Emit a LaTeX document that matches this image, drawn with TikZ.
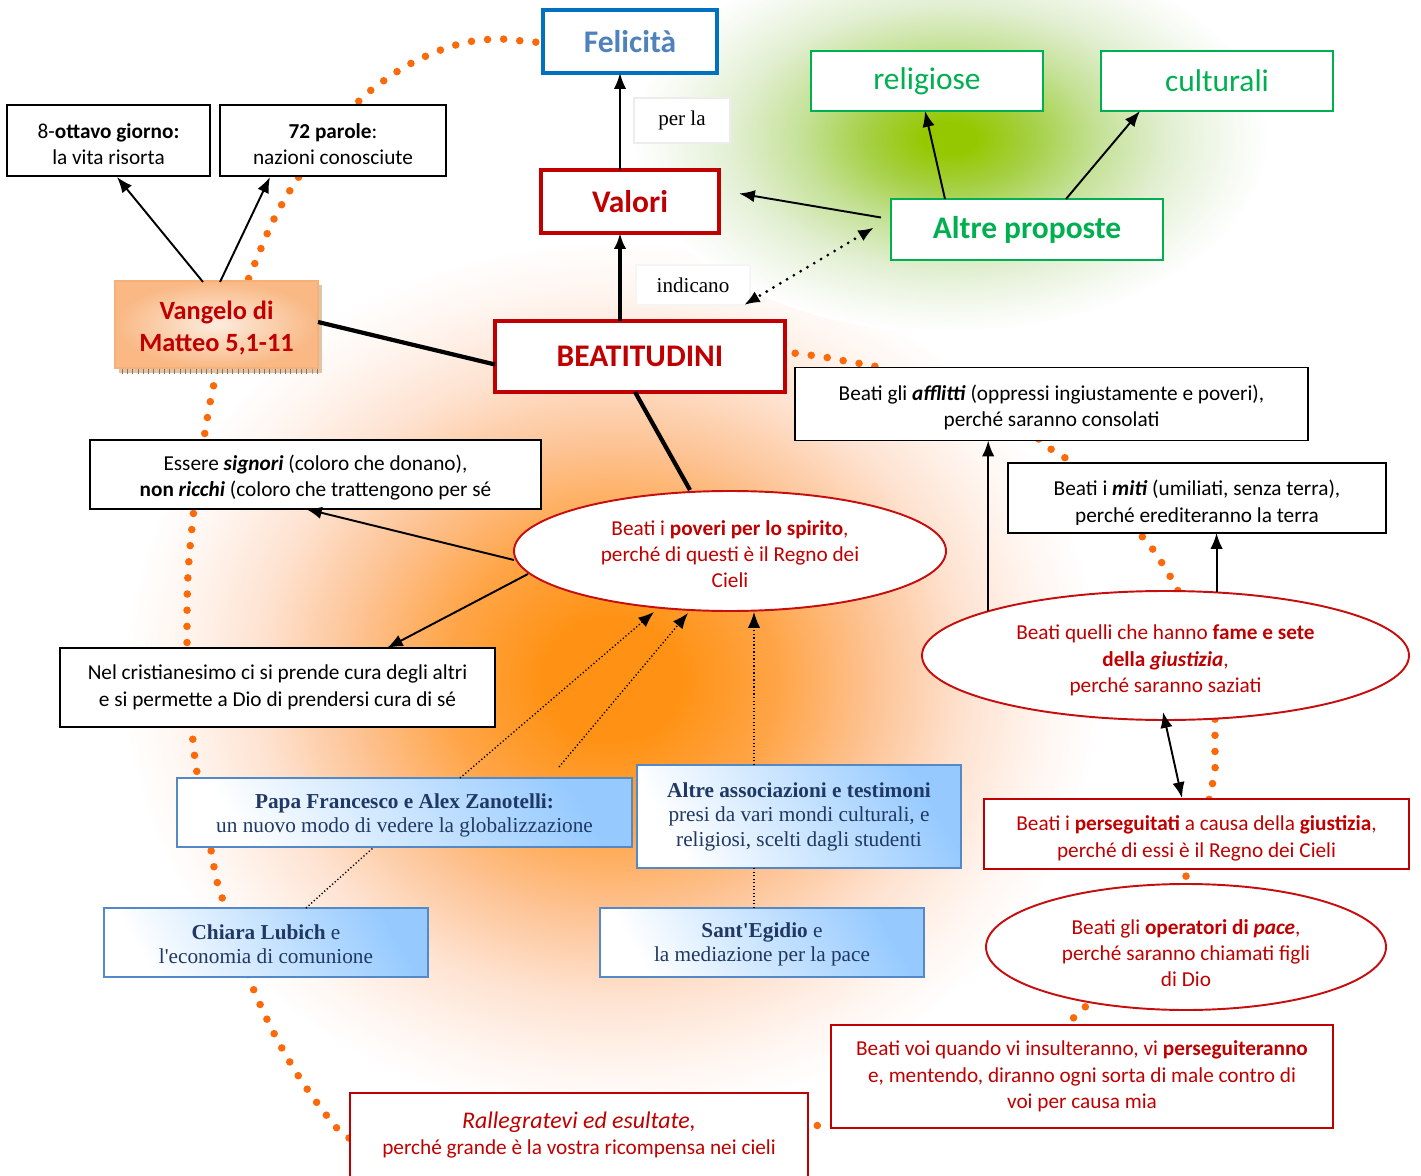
\documentclass[tikz,border=0pt]{standalone}
\usepackage{fontspec}
\setmainfont{Carlito}
\newfontfamily\serifface{Liberation Serif}
\usetikzlibrary{arrows.meta,shapes.geometric,patterns,calc}

% palette
\definecolor{beatred}{RGB}{192,0,0}
\definecolor{ovalred}{RGB}{198,14,14}
\definecolor{propgreen}{RGB}{0,176,80}
\definecolor{felblue}{RGB}{0,112,192}
\definecolor{feltext}{RGB}{79,129,189}
\definecolor{ringorange}{RGB}{250,105,10}
\definecolor{navytext}{RGB}{31,56,100}
\definecolor{boxblue}{RGB}{84,137,200}
\definecolor{paleblue}{RGB}{150,202,255}
\definecolor{peachlight}{RGB}{253,236,222}
\definecolor{peachdark}{RGB}{249,184,132}
\definecolor{peachline}{RGB}{247,176,120}
\definecolor{shadowtan}{RGB}{222,196,170}
\definecolor{shadowbrown}{RGB}{150,110,80}
\definecolor{faintgray}{RGB}{236,236,236}
% soft halos behind the map (the rim of the shaded ellipse sits at 25bp)
\definecolor{og0}{RGB}{255,146,20}
\definecolor{og1}{RGB}{255,165,72}
\definecolor{og2}{RGB}{253,196,150}
\definecolor{og3}{RGB}{254,226,208}
\definecolor{og4}{RGB}{255,245,239}
\definecolor{gg0}{RGB}{150,200,0}
\definecolor{gg1}{RGB}{166,208,70}
\definecolor{gg2}{RGB}{196,225,150}
\definecolor{gg3}{RGB}{226,239,210}
\definecolor{gg4}{RGB}{245,250,241}
\pgfdeclareradialshading{orangeglow}{\pgfpoint{0bp}{0bp}}{%
  color(0bp)=(og0); color(3.5bp)=(og0); color(8.5bp)=(og1); color(13.5bp)=(og2);
  color(18bp)=(og3); color(22bp)=(og4); color(25bp)=(white); color(50bp)=(white)}
\pgfdeclareradialshading{greenglow}{\pgfpoint{0bp}{0bp}}{%
  color(0bp)=(gg0); color(2bp)=(gg0); color(6.5bp)=(gg1); color(11.5bp)=(gg2);
  color(17bp)=(gg3); color(22bp)=(gg4); color(25bp)=(white); color(50bp)=(white)}

\newcommand\mapbody{\fontsize{12.1}{15}\selectfont}
\newcommand\maptitle{\fontsize{17.9}{21}\selectfont}
\newcommand\mapserif{\serifface\fontsize{12.1}{13.9}\selectfont}
% a taller first line lowers a multi-line text inside its frame
\newcommand\firstlift[1]{\rule{0pt}{#1}}

\pgfdeclarelayer{glow}
\pgfdeclarelayer{ring}
\pgfsetlayers{glow,ring,main}

\tikzset{
  sz/.style 2 args={minimum width=#1*0.02cm, minimum height=#2*0.02cm},
  titlebox/.style={fill=white, line width=2pt, font=\maptitle\bfseries},
  greenbox/.style={draw=propgreen, fill=white, line width=1.2pt, text=propgreen, font=\maptitle},
  labelbox/.style={draw=faintgray, fill=white, line width=0.6pt, font=\serifface\fontsize{12}{14}\selectfont},
  blackbox/.style={draw=black, fill=white, line width=1.1pt, align=center, font=\mapbody},
  redbox/.style={draw=beatred, fill=white, line width=1.2pt, align=center, text=beatred, font=\mapbody},
  redoval/.style={ellipse, draw=ovalred, fill=white, line width=1.1pt, align=center, text=beatred, font=\mapbody},
  bluebox/.style={draw=boxblue, line width=1.2pt, top color=paleblue, bottom color=white,
    shading angle=-60, align=center, text=navytext, font=\mapserif},
  tip/.tip={Latex[length=9pt,width=7pt]},
  link/.style={line width=1.1pt, -tip},
  boldlink/.style={line width=2.4pt},
  dotlink/.style={line width=1.8pt, line cap=round, dash pattern=on 0pt off 4.5pt, tip-tip},
  finedots/.style={line width=0.8pt, dash pattern=on 0.7pt off 1.3pt},
  ringdots/.style={draw=ringorange, line width=4.3pt, line cap=round, dash pattern=on 0pt off 9.2pt},
}

\begin{document}
\begin{tikzpicture}[x=0.02cm, y=-0.02cm, inner sep=0pt, outer sep=0pt]
\useasboundingbox (0,0) rectangle (1421,1176);

% ---------- background halos ----------
\begin{pgfonlayer}{glow}
  \fill[white] (0,0) rectangle (1421,1176);
  \shade[shading=orangeglow] (612,680) ellipse (490 and 440);
  \shade[shading=greenglow] (950,138) ellipse (320 and 195);
\end{pgfonlayer}

% ---------- top row ----------
\node[titlebox, draw=felblue, text=feltext, sz={174}{63}] (fel) at (630,41.5) {Felicità};
\node[titlebox, draw=beatred, text=beatred, sz={178}{63}] (valori) at (630,201.5) {Valori};
\node[titlebox, draw=beatred, text=beatred, line width=2.8pt, sz={290}{71}] (beat) at (640,356.5) {BEATITUDINI};
\node[labelbox, sz={96}{45}] (perla) at (682,120.5) {per la};
\node[labelbox, draw=white!96!black, sz={114}{40}] (indic) at (693,285) {indicano};

\node[greenbox, font=\maptitle\bfseries, sz={272}{61}] (altre) at (1027,229.5) {Altre proposte};
\node[greenbox, sz={232}{60}] (relig) at (927,81) {religiose};
\node[greenbox, sz={232}{60}] (cult) at (1217,81) {culturali};

\node[blackbox, sz={203}{71}] (ottavo) at (108.5,140.5)
  {\firstlift{12.4pt}8-\textbf{ottavo giorno:}\\la vita risorta};
\node[blackbox, sz={226}{71}] (parole) at (333,140.5)
  {\firstlift{12.4pt}\textbf{72 parole}:\\nazioni conosciute};

% Vangelo box with its textured shadow
\fill[shadowtan] (119,366) rectangle (321,373);
\fill[pattern=vertical lines, pattern color=shadowbrown] (119,366) rectangle (321,373);
\fill[shadowtan] (318,285) rectangle (322,373);
\node[draw=peachline, line width=0.8pt, inner color=peachlight, outer color=peachdark,
      sz={203}{87}, align=center, text=beatred, font=\fontsize{15}{18.1}\selectfont\bfseries]
      (vangelo) at (216.5,324.5) {\firstlift{14.6pt}Vangelo di\\Matteo 5,1-11};

% ---------- left column ----------
\node[blackbox, sz={451}{69}] (signori) at (315.5,474.5)
  {\firstlift{12.4pt}Essere \textbf{\textit{signori}} (coloro che donano),\\\textbf{non \textit{ricchi}} (coloro che trattengono per sé};
\node[blackbox, sz={435}{79}] (cura) at (277.5,687.5)
  {Nel cristianesimo ci si prende cura degli altri\\e si permette a Dio di prendersi cura di sé};

\node[redoval, sz={432}{120}] (poveri) at (730,551)
  {\firstlift{12pt}Beati i \textbf{poveri per lo spirito},\\perché di questi è il Regno dei\\Cieli};

% ---------- right column ----------
\node[blackbox, sz={513}{73}] (afflitti) at (1051.5,404)
  {\firstlift{12.4pt}Beati gli \textbf{\textit{afflitti}} (oppressi ingiustamente e poveri),\\perché saranno consolati};
\node[blackbox, sz={378}{70}] (miti) at (1197,498) {};
\begin{scope}
  \clip (1010,465) rectangle (1384,524);
  \node[font=\mapbody, align=center] (mitilines) at (1197,503)
    {Beati i \textbf{\textit{miti}} (umiliati, senza terra),\\perché erediteranno la terra};
\end{scope}
\node[redoval, sz={487}{129}] (fame) at (1165.5,655.5)
  {\firstlift{14.1pt}Beati quelli che hanno \textbf{fame e sete}\\\textbf{della \textit{giustizia}},\\perché saranno saziati};
\node[redbox, sz={425}{70}] (perseg) at (1196.5,834)
  {\firstlift{13.5pt}Beati i \textbf{perseguitati} a causa della \textbf{giustizia},\\perché di essi è il Regno dei Cieli};
\node[redoval, sz={400}{126}] (pace) at (1186,947) {};
\begin{scope}
  \clip (990,884) rectangle (1384,985);
  \node[font=\mapbody, align=center, text=beatred] (pacelines) at (1186,953)
    {Beati gli \textbf{operatori di \textit{pace}},\\perché saranno chiamati figli\\di Dio};
\end{scope}
\node[redbox, sz={502}{103}] (voi) at (1082,1076.5)
  {Beati voi quando vi insulteranno, vi \textbf{perseguiteranno}\\e, mentendo, diranno ogni sorta di male contro di\\voi per causa mia};
\node[redbox, sz={458}{130}, anchor=north] (ralleg) at (579,1093) {};
\node[align=center, text=beatred, font=\mapbody] (rallines) at (579,1135)
  {{\fontsize{13.6}{16}\selectfont\itshape Rallegratevi ed esultate,}\\perché grande è la vostra ricompensa nei cieli};

% ---------- witnesses ----------
\node[bluebox, sz={455}{69}] (papa) at (404.5,812.5)
  {\firstlift{11.6pt}\textbf{Papa Francesco e Alex Zanotelli:}\\un nuovo modo di vedere la globalizzazione};
\node[bluebox, sz={324}{103}] (assoc) at (799,816.5)
  {\textbf{Altre associazioni e testimoni}\\presi da vari mondi culturali, e\\religiosi, scelti dagli studenti};
\node[bluebox, sz={324}{69}] (chiara) at (266,942.5)
  {\firstlift{10.6pt}\textbf{Chiara Lubich} e\\l'economia di comunione};
\node[bluebox, sz={324}{69}] (egidio) at (762,942.5)
  {\firstlift{10.6pt}\textbf{Sant'Egidio} e\\la mediazione per la pace};

% ---------- connectors ----------
\coordinate (colx) at (620,0);
\draw[link] (valori.north -| colx) -- (fel.south -| colx);
\draw[link, boldlink] (beat.north -| colx) -- (valori.south -| colx);
\draw[link] ($(altre.west)+(-10,-12)$) -- ($(valori.east)+(20,-8)$);
\draw[dotlink] ($(altre.west)+(-17,-2)$) -- ($(beat.north east)+(-41,-16)$);
\draw[link] ($(altre.north west)+(54,0)$) -- ($(relig.south)+(-2,0)$);
\draw[link] ($(altre.north west)+(175,0)$) -- ($(cult.south west)+(39,0)$);

\draw[link] ($(vangelo.north west)+(88,1)$) -- ($(ottavo.south west)+(110,1)$);
\draw[link] ($(vangelo.north west)+(105,1)$) -- ($(parole.south west)+(50,1)$);
\draw[boldlink] ($(vangelo.north east)+(0,41)$) -- ($(beat.west)+(0,8)$);
\draw[boldlink] ($(beat.south west)+(140,0)$) -- ($(poveri.north)+(-40,-1)$);

\draw[link] ($(poveri.west)+(0,9)$) -- ($(signori.south west)+(216,0)$);
\draw[link] ($(poveri.center)+(-202,23)$) -- ($(cura.north west)+(327,0)$);

\draw[link] (fame.166.4) -- (fame.166.4 |- afflitti.south);
\draw[link] (fame.51.9) -- (fame.51.9 |- miti.south);
\draw[line width=1.1pt, tip-tip] ($(perseg.north west)+(198,-1)$) -- ($(fame.south)+(-2.5,-8)$);

\draw[finedots] ($(chiara.north west)+(202,0)$) -- ($(papa.south west)+(197,0)$);
\draw[finedots, -tip] ($(papa.north west)+(283,0)$) -- ($(poveri.center)+(-76,61)$);
\coordinate (papatail) at ($(papa.north west)+(382,-11)$);
\draw[finedots, -tip] (papatail) -- ($(poveri.center)+(-42,62)$);
\coordinate (vx) at (754,0);
\draw[finedots] (egidio.north -| vx) -- (assoc.south -| vx);
\draw[finedots, -tip] (assoc.north -| vx) -- ($(poveri.center -| vx)+(0,61)$);

% ---------- orange dotted ring linking the beatitudes ----------
\begin{pgfonlayer}{ring}
  \draw[ringdots] plot[smooth, tension=0.55] coordinates {
    (552,42) (532,42) (500,39) (468,42) (438,51) (408,65) (382,82) (358,102)
    (328,140) (298,178) (274,219) (255,263) (236,310) (222,350) (211,398)
    (205,432) (198,475) (192,527) (188,575) (187,623) (188,690) (194,750)
    (196,767) (205,815) (216,877) (225,906) (238,945) (251,983) (264,1013)
    (278,1041) (294,1069) (312,1096) (331,1121) (342,1133) (360,1145)};
  \draw[ringdots] (785,1127) -- (850,1124);
  \draw[ringdots] (1050,1040) -- (1100,993);
  \draw[ringdots] (1186,860) -- (1186,895);
  \draw[ringdots] plot[smooth, tension=0.55] coordinates {
    (1205,815) (1209,800) (1212,786) (1215,770) (1215,754) (1215,737) (1215,722) (1215,708)};
  \draw[ringdots] plot[smooth, tension=0.55] coordinates {
    (1185,605) (1175,585) (1167,571) (1158,557) (1149,544) (1139,533) (1128,518)};
  \draw[ringdots] plot[smooth, tension=0.55] coordinates {
    (1090,478) (1071,462) (1059,454) (1045,445) (1030,430)};
  \draw[ringdots] plot[smooth, tension=0.55] coordinates {
    (890,372) (871,365) (856,363) (840,360) (824,357) (809,355) (793,353) (775,352)};
\end{pgfonlayer}
\end{tikzpicture}
\end{document}
